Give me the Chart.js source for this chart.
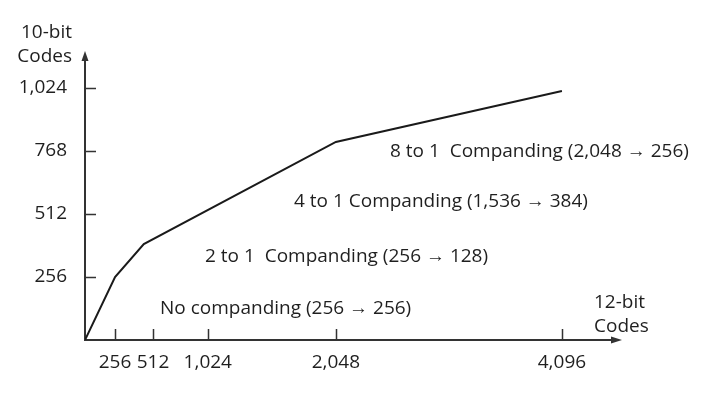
<!DOCTYPE html>
<html>
<head>
<meta charset="utf-8">
<script src="https://cdn.jsdelivr.net/npm/chart.js@4/dist/chart.umd.min.js"></script>
<style>
  body { margin: 0; background: #fff; }
</style>
</head>
<body>
<canvas id="chart" width="708" height="396"></canvas>
<script>
// 12-bit input codes -> 10-bit output codes
const inputCodes = [0, 256, 450, 2048, 4096];
const outputCodes = [0, 256, 390, 805, 1012];
const xTicks = [256, 512, 1024, 2048, 4096];
const yTicks = [256, 512, 768, 1024];
const yTitle = ['10-bit', 'Codes'];
const xTitle = ['12-bit', 'Codes'];
const segmentLabels = [
  'No companding (256 \u2192 256)',
  '2 to 1  Companding (256 \u2192 128)',
  '4 to 1 Companding (1,536 \u2192 384)',
  '8 to 1  Companding (2,048 \u2192 256)'
];

// the drawn x axis is not to scale: where each code sits along its length
const xAxisCodes = [0, 256, 512, 1024, 2048, 4096, 4550];
const xAxisSpots = [0, 0.057, 0.129, 0.233, 0.476, 0.905, 1];

const ink = '#1f1f1f';
const axisInk = '#333';
const fontFamily = '"Open Sans", sans-serif';
const font = '19px ' + fontFamily;

class PiecewiseScale extends Chart.LinearScale {
  getPixelForValue(value) {
    let i = 1;
    while (i < xAxisCodes.length - 1 && value > xAxisCodes[i]) i++;
    const v0 = xAxisCodes[i - 1], v1 = xAxisCodes[i];
    const t = xAxisSpots[i - 1] + (value - v0) / (v1 - v0) * (xAxisSpots[i] - xAxisSpots[i - 1]);
    return this.getPixelForDecimal(t);
  }
  getValueForPixel(pixel) {
    const t = this.getDecimalForPixel(pixel);
    let i = 1;
    while (i < xAxisSpots.length - 1 && t > xAxisSpots[i]) i++;
    const s0 = xAxisSpots[i - 1], s1 = xAxisSpots[i];
    return xAxisCodes[i - 1] + (t - s0) / (s1 - s0) * (xAxisCodes[i] - xAxisCodes[i - 1]);
  }
}
PiecewiseScale.id = 'piecewise';
PiecewiseScale.defaults = Chart.LinearScale.defaults;
Chart.register(PiecewiseScale);

const axisDecor = {
  id: 'axisDecor',
  afterDraw(chart) {
    const {ctx, chartArea: a, scales: {x, y}} = chart;
    ctx.save();
    ctx.strokeStyle = axisInk;
    ctx.fillStyle = axisInk;
    ctx.lineWidth = 1.5;

    // short ticks on the inside of each axis
    ctx.beginPath();
    xTicks.forEach(v => {
      const px = Math.round(x.getPixelForValue(v)) + 0.5;
      ctx.moveTo(px, a.bottom);
      ctx.lineTo(px, a.bottom - 11);
    });
    yTicks.forEach(v => {
      const py = Math.round(y.getPixelForValue(v)) + 0.5;
      ctx.moveTo(a.left, py);
      ctx.lineTo(a.left + 11, py);
    });
    ctx.stroke();

    // arrow heads
    ctx.beginPath();
    ctx.moveTo(a.left, a.top - 9);
    ctx.lineTo(a.left - 3.5, a.top + 1);
    ctx.lineTo(a.left + 3.5, a.top + 1);
    ctx.closePath();
    ctx.fill();
    ctx.beginPath();
    ctx.moveTo(a.right + 10, a.bottom);
    ctx.lineTo(a.right - 1, a.bottom - 3.5);
    ctx.lineTo(a.right - 1, a.bottom + 3.5);
    ctx.closePath();
    ctx.fill();

    // axis titles
    ctx.fillStyle = ink;
    ctx.font = font;
    ctx.textBaseline = 'middle';
    ctx.textAlign = 'right';
    ctx.fillText(yTitle[0], 72, 33);
    ctx.fillText(yTitle[1], 72, 57);
    ctx.textAlign = 'left';
    ctx.fillText(xTitle[0], 594, 303);
    ctx.fillText(xTitle[1], 594, 327);

    // segment notes
    const notePos = [[160, 309], [205, 257], [294, 202], [390, 152]];
    segmentLabels.forEach((t, i) => {
      ctx.fillText(t, notePos[i][0], notePos[i][1]);
    });
    ctx.restore();
  }
};

new Chart(document.getElementById('chart'), {
  type: 'scatter',
  data: {
    datasets: [{
      data: inputCodes.map((v, i) => ({x: v, y: outputCodes[i]})),
      showLine: true,
      borderColor: '#1a1a1a',
      borderWidth: 2,
      tension: 0,
      pointRadius: 0,
      fill: false
    }]
  },
  options: {
    responsive: false,
    animation: false,
    layout: {padding: {top: 60, right: 96, left: 0, bottom: 0}},
    plugins: {legend: {display: false}, tooltip: {enabled: false}},
    scales: {
      x: {
        type: 'piecewise',
        min: 0,
        max: 4550,
        grid: {display: false, drawTicks: false},
        border: {display: true, color: axisInk, width: 2},
        afterBuildTicks: s => { s.ticks = xTicks.map(v => ({value: v})); },
        afterFit: s => { s.height = 56; },
        ticks: {
          color: ink,
          font: {family: fontFamily, size: 19},
          padding: 11,
          maxRotation: 0,
          autoSkip: false,
          callback: v => v.toLocaleString('en-US')
        }
      },
      y: {
        type: 'linear',
        min: 0,
        max: 1138,
        grid: {display: false, drawTicks: false},
        border: {display: true, color: axisInk, width: 2},
        afterBuildTicks: s => { s.ticks = yTicks.map(v => ({value: v})); },
        afterFit: s => { s.width = 85; },
        ticks: {
          color: ink,
          font: {family: fontFamily, size: 19},
          padding: 18,
          autoSkip: false,
          callback: v => v.toLocaleString('en-US')
        }
      }
    }
  },
  plugins: [axisDecor]
});
</script>
</body>
</html>
